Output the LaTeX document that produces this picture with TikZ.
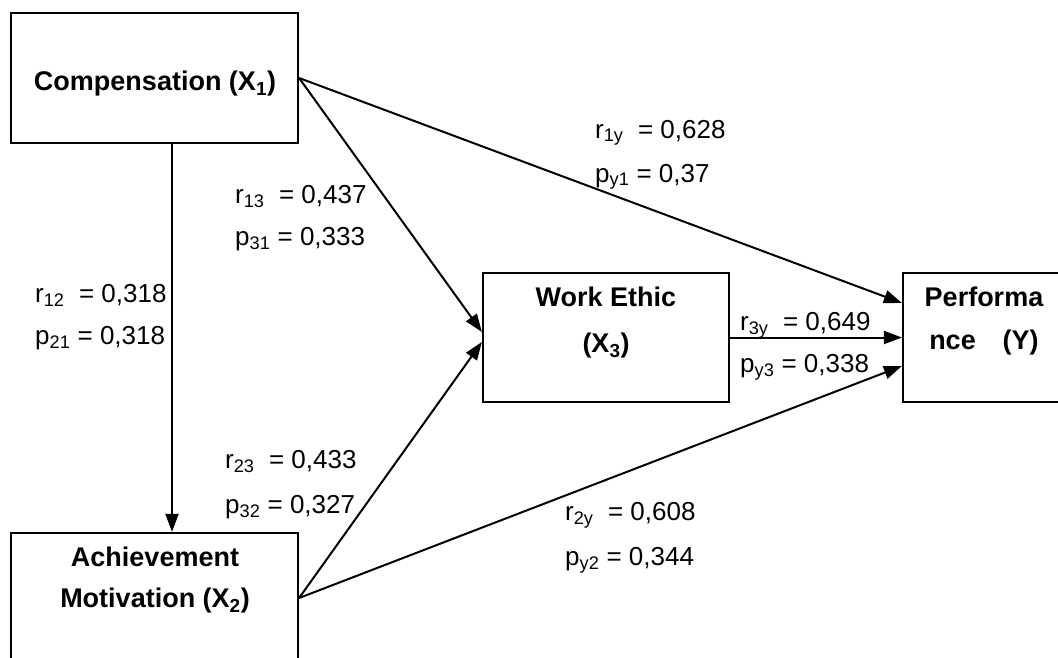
\documentclass[tikz,border=0pt]{standalone}
\usepackage{fontspec}
\setmainfont{Liberation Sans}
\usetikzlibrary{arrows.meta}

\tikzset{
	var/.style={draw, line width=2.2pt, inner sep=0pt},
	varname/.style={font=\bfseries\fontsize{27}{44}\selectfont, align=center, inner sep=0pt},
	coef/.style={font=\fontsize{26}{30}\selectfont, anchor=base west, inner sep=0pt},
	effect/.style={line width=2pt, -{Triangle[length=18pt,width=13pt]}}
}

\begin{document}
\begin{tikzpicture}[x=1pt,y=-1pt]
	\useasboundingbox (0,0) rectangle (1058,657);
	\clip (0,0) rectangle (1058,657);

	% the four variables
	\node[var, minimum width=287pt, minimum height=130pt] (comp) at (154.5,78) {};
	\node[var, minimum width=287pt, minimum height=130pt] (ach)  at (154.5,598) {};
	\node[var, minimum width=246pt, minimum height=129pt] (work) at (606,337.5) {};
	\node[var, minimum width=162pt, minimum height=129pt] (perf) at (984,337.5) {};

	\node[varname] (compname) at (155,84) {Compensation (X\textsubscript{1})};
	\node[varname, font=\bfseries\fontsize{27}{41}\selectfont] (achname) at (155,580) {Achievement\\Motivation (X\textsubscript{2})};
	\node[varname, font=\bfseries\fontsize{27}{46}\selectfont] (workname) at (606,323) {Work Ethic\\(X\textsubscript{3})};
	\node[varname, font=\bfseries\fontsize{27}{43}\selectfont] (perfname) at (984,321) {Performa\\nce\quad(Y)};

	% paths
	\draw[effect] ([xshift=17.5pt]comp.south) -- ([xshift=17.5pt]ach.north);
	\draw[effect] (comp.east) -- ([yshift=5.5pt]work.west);
	\draw[effect] (ach.east) -- ([yshift=-4.5pt]work.west);
	\draw[effect] (comp.east) -- ([yshift=34.5pt]perf.west);
	\draw[effect] (work.east) -- (perf.west);
	\draw[effect] (ach.east) -- ([yshift=-28.5pt]perf.west);

	% coefficients
	\node[coef] (r12) at (35,302) {r\textsubscript{12}\ \ = 0,318};
	\node[coef] (p21) at (35,344) {p\textsubscript{21} = 0,318};
	\node[coef] (r13) at (235,203) {r\textsubscript{13}\ \ = 0,437};
	\node[coef] (p31) at (235,245) {p\textsubscript{31} = 0,333};
	\node[coef] (r23) at (225,468) {r\textsubscript{23}\ \ = 0,433};
	\node[coef] (p32) at (225,513) {p\textsubscript{32} = 0,327};
	\node[coef] (r1y) at (595,138) {r\textsubscript{1y}\ \ = 0,628};
	\node[coef] (py1) at (595,182) {p\textsubscript{y1} = 0,37};
	\node[coef] (r2y) at (565,520) {r\textsubscript{2y}\ \ = 0,608};
	\node[coef] (py2) at (565,565) {p\textsubscript{y2} = 0,344};
	\node[coef] (r3y) at (740,330) {r\textsubscript{3y}\ \ = 0,649};
	\node[coef] (py3) at (740,372) {p\textsubscript{y3} = 0,338};
\end{tikzpicture}
\end{document}
